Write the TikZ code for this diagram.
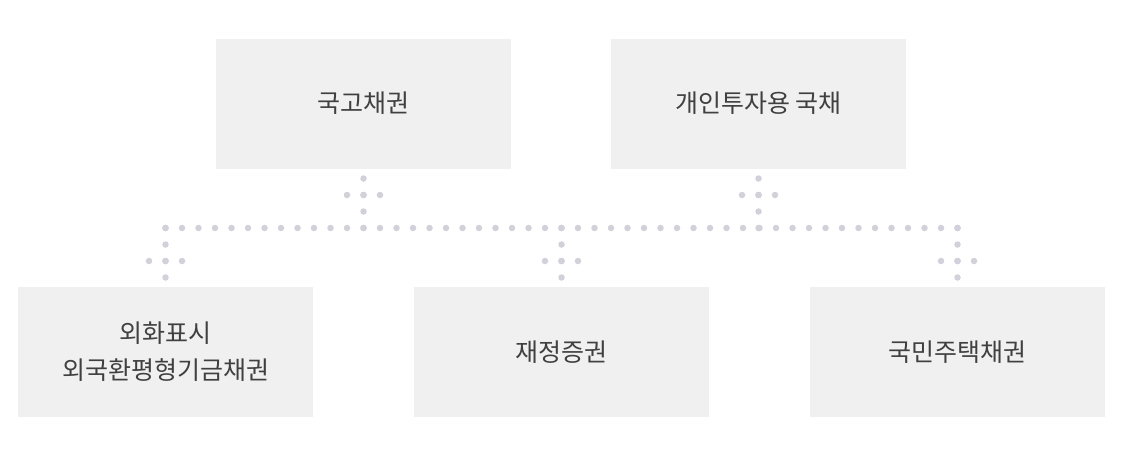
\documentclass[tikz,border=0pt]{standalone}
\usepackage{fontspec}
\setmainfont{Noto Sans CJK KR}
\definecolor{boxgray}{HTML}{F0F0F0}
\definecolor{dotgray}{HTML}{D0D1D9}
\definecolor{txtgray}{HTML}{404040}
\begin{document}
\begin{tikzpicture}[x=1pt,y=-1pt,
    box/.style={fill=boxgray, minimum width=295pt, minimum height=130pt, inner sep=0pt,
        text=txtgray, align=center, font=\fontsize{25}{37}\selectfont},
    dotline/.style={draw=dotgray, line width=6.5pt, line cap=round, dash pattern=on 0pt off 16.5pt}]
    \useasboundingbox (0,0) rectangle (1135,456);
    % boxes
    \node[box] (gukgo) at (363.5,103.5) {국고채권};
    \node[box] (gaein) at (758.5,103.5) {개인투자용 국채};
    \node[box] (oehwa) at (165.5,352) {외화표시\\외국환평형기금채권};
    \node[box] (jaejeong) at (561.5,352) {재정증권};
    \node[box] (gukmin) at (957.5,352) {국민주택채권};
    \coordinate (busy) at (0,228);
    \coordinate (upy) at (0,195);
    \coordinate (downy) at (0,261);
    % dotted bus
    \draw[dotline] (oehwa.north |- busy) -- ([xshift=0.3pt]gukmin.north |- busy);
    \foreach \n in {gukgo,gaein} {
        \draw[dotline] (\n.south |- busy) -- (\n.south);
        \path (\n.south |- upy) coordinate (\n-x);
        \draw[dotline] ([xshift=-16.5pt]\n-x) -- ([xshift=16.8pt]\n-x);
    }
    \foreach \n in {oehwa,jaejeong,gukmin} {
        \draw[dotline] (\n.north |- busy) -- (\n.north);
        \path (\n.north |- downy) coordinate (\n-x);
        \draw[dotline] ([xshift=-16.5pt]\n-x) -- ([xshift=16.8pt]\n-x);
    }
\end{tikzpicture}
\end{document}
